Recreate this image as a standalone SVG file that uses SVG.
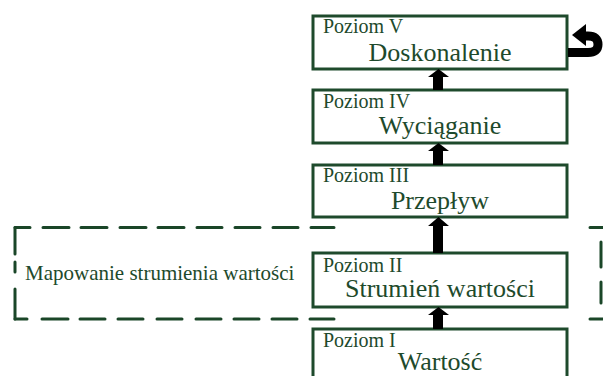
<svg xmlns="http://www.w3.org/2000/svg" width="603" height="376" viewBox="0 0 603 376">
<style>
.box{fill:#fff;stroke:#1e4a2c;stroke-width:3}
.lvl{font-family:"Liberation Serif","Times New Roman",serif;font-size:20px;fill:#1e4a2c}
.name{font-family:"Liberation Serif","Times New Roman",serif;font-size:26px;fill:#1e4a2c;text-anchor:middle}
.dash{stroke:#1a4628;stroke-width:3;stroke-linecap:round;fill:none}
.arr{fill:#000}
</style>
<rect width="603" height="376" fill="#fff"/>
<g id="group-vsm">
<path class="dash" d="M15,227.5H30M43,227.5H69M81,227.5H107M120,227.5H146M158,227.5H184M197,227.5H222M235,227.5H260M273,227.5H298M311,227.5H334M590,227.5H603"/>
<path class="dash" d="M15,227.5V254M15,262V272M15,289V319"/>
<path class="dash" d="M15,319H27M42,319H68M80,319H105M118,319H143M157,319H182M196,319H221M234,319H259M272,319H297M310,319H334M590,319H603"/>
<path class="dash" d="M601,242V267M601,282V303"/>
<text class="lvl" x="25" y="280" style="font-size:21px">Mapowanie strumienia wartości</text>
</g>
<g id="node-5">
<rect class="box" x="313" y="16" width="254" height="53"/>
<text class="lvl" x="323" y="33">Poziom V</text>
<text class="name" x="440" y="61">Doskonalenie</text>
</g>
<g id="node-4">
<rect class="box" x="313" y="90" width="254" height="53"/>
<text class="lvl" x="323" y="108">Poziom IV</text>
<text class="name" x="440" y="134">Wyciąganie</text>
</g>
<g id="node-3">
<rect class="box" x="313" y="165" width="254" height="52"/>
<text class="lvl" x="323" y="182">Poziom III</text>
<text class="name" x="440" y="209">Przepływ</text>
</g>
<g id="node-2">
<rect class="box" x="313" y="253" width="254" height="54"/>
<text class="lvl" x="323" y="272">Poziom II</text>
<text class="name" x="440" y="297">Strumień wartości</text>
</g>
<g id="node-1">
<rect class="box" x="313" y="329" width="254" height="60"/>
<text class="lvl" x="323" y="347">Poziom I</text>
<text class="name" x="440" y="370">Wartość</text>
</g>
<g id="connectors">
<path class="arr" d="M433,90V77H428L438.5,69L449,77H443V90Z"/>
<path class="arr" d="M433,165V151H428L438.5,143L449,151H443V165Z"/>
<path class="arr" d="M433,253V226H428L438.5,217L449,226H443V253Z"/>
<path class="arr" d="M433,329V315H428L438.5,307L449,315H443V329Z"/>
<path d="M568,52.5H588Q598,52.5 598,44.5Q598,36 588,36H584" fill="none" stroke="#000" stroke-width="9"/>
<path class="arr" d="M572,35L586,24L586,46Z"/>
</g>
</svg>
